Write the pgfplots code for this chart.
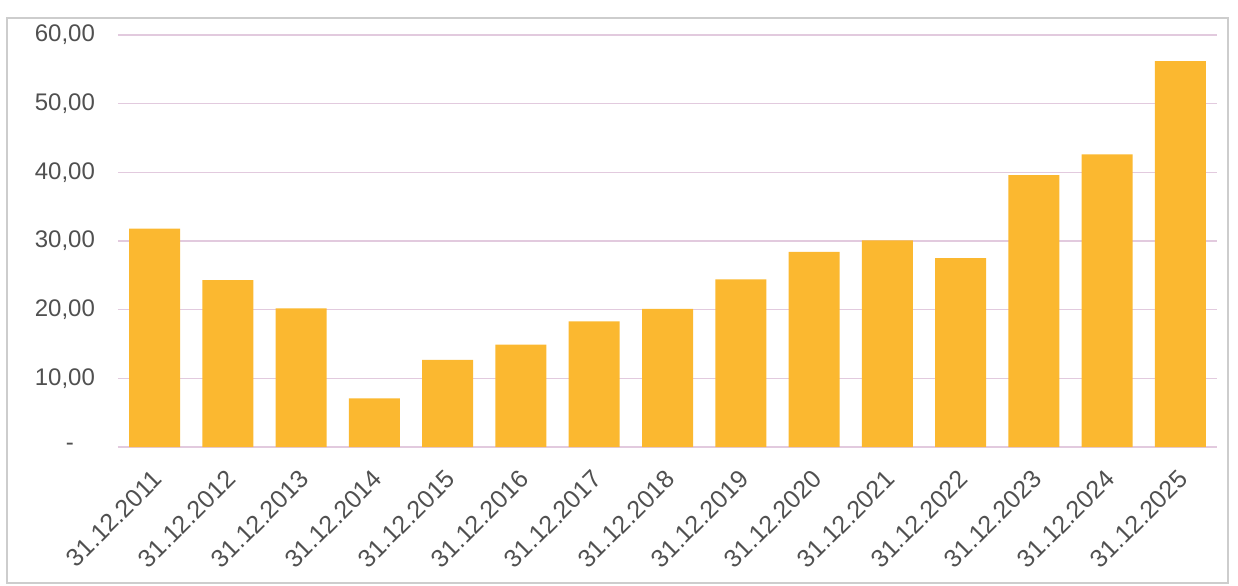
\documentclass[border=0pt]{standalone}
\usepackage{pgfplots}
\pgfplotsset{compat=1.18}
\usepackage{fontspec}
\setmainfont{Liberation Sans}

\definecolor{barfill}{RGB}{251,184,48}
\definecolor{gridc}{RGB}{226,202,222}
\definecolor{labc}{RGB}{80,80,80}
\definecolor{framec}{RGB}{205,205,205}

\begin{document}
\begin{tikzpicture}
\useasboundingbox (-59pt,-69pt) rectangle (560pt,223.5pt);
\draw[framec, line width=0.6pt] (-55.5pt,-68pt) rectangle (555pt,214.5pt);
\begin{axis}[
  at={(0,0)}, anchor=south west,
  scale only axis, width=549.5pt, height=206pt,
  xmin=-0.5, xmax=14.5, ymin=0, ymax=60,
  ybar, bar width=25.5pt,
  axis lines*=left,
  y axis line style={draw=none},
  x axis line style={draw=gridc, line width=0.8pt},
  ymajorgrids, grid style={gridc, line width=0.8pt},
  major tick length=0pt,
  ytick={0,10,20,30,40,50,60},
  yticklabels={{-\rule{10.5pt}{0pt}},{10,00},{20,00},{30,00},{40,00},{50,00},{60,00}},
  xtick={0,...,14},
  xticklabels={31.12.2011,31.12.2012,31.12.2013,31.12.2014,31.12.2015,31.12.2016,31.12.2017,31.12.2018,31.12.2019,31.12.2020,31.12.2021,31.12.2022,31.12.2023,31.12.2024,31.12.2025},
  /pgf/number format/assume math mode=true,
  yticklabel style={font=\fontsize{12}{14}\selectfont, text=labc, xshift=-8pt},
  xticklabel style={font=\fontsize{12.5}{14}\selectfont, text=labc, xshift=4pt, yshift=-11.5pt, rotate=45, anchor=east},
]
\addplot[draw=none, fill=barfill] coordinates {
  (0,31.8) (1,24.3) (2,20.2) (3,7.1) (4,12.7) (5,14.9) (6,18.3) (7,20.1)
  (8,24.4) (9,28.4) (10,30.1) (11,27.5) (12,39.6) (13,42.6) (14,56.2)
};
\end{axis}
\end{tikzpicture}
\end{document}
